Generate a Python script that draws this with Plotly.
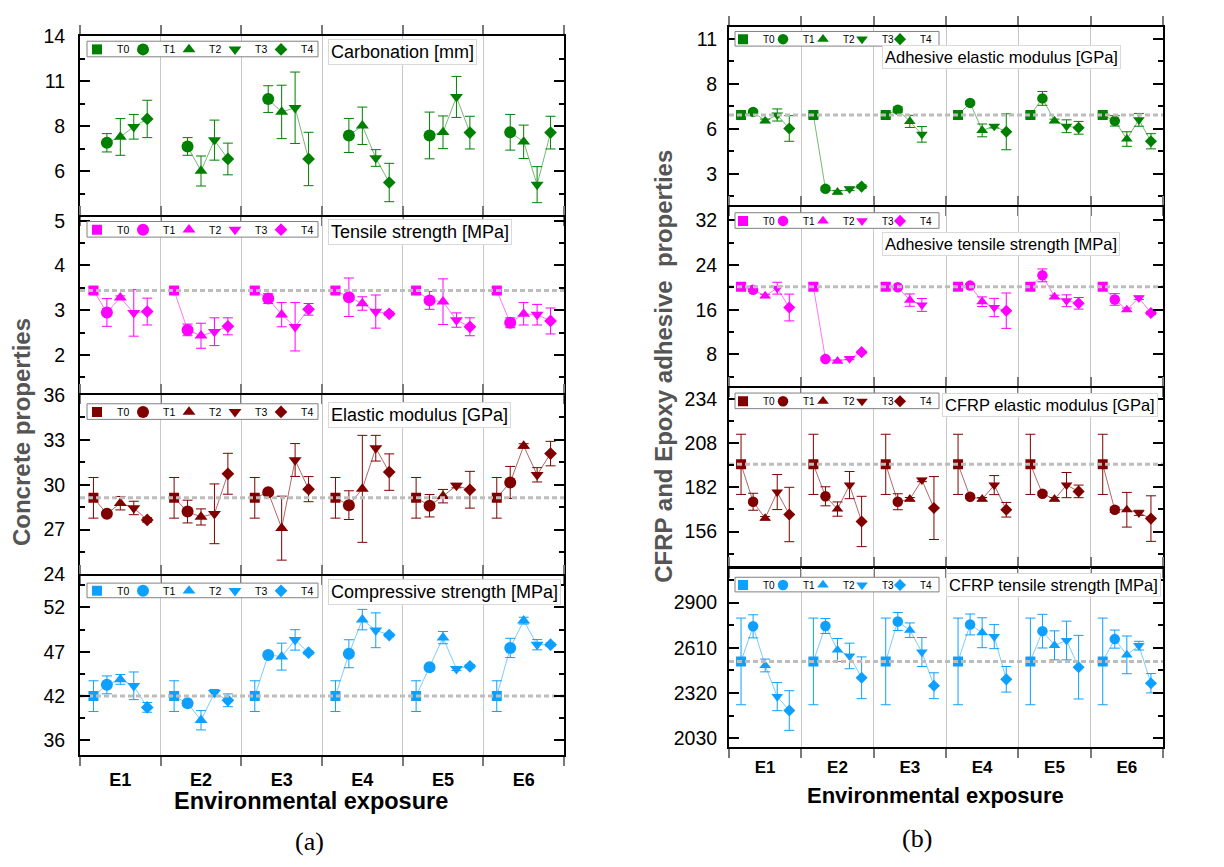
import plotly.graph_objects as go

W, H = 1224, 867
FONT = "Liberation Sans, Arial, sans-serif"

# ---------------- data ----------------
groups = ["E1", "E2", "E3", "E4", "E5", "E6"]
levels = ["T0", "T1", "T2", "T3", "T4"]

# (a) Concrete properties  rows: T0..T4, columns: E1..E6
carbonation = [
    [None, None, None, None, None, None],
    [7.31, 7.09, 9.93, 7.75, 7.75, 7.94],
    [7.66, 5.62, 9.16, 8.33, 7.94, 7.37],
    [8.27, 7.47, 9.41, 6.40, 10.06, 4.80],
    [8.74, 6.34, 6.34, 4.93, 7.92, 7.92],
]
carbonation_err = [
    [None, None, None, None, None, None],
    [0.55, 0.53, 0.80, 1.02, 1.40, 1.07],
    [1.10, 0.90, 1.60, 1.12, 0.98, 1.00],
    [0.74, 1.20, 2.14, 0.50, 1.23, 1.08],
    [1.12, 0.95, 1.60, 1.15, 0.98, 0.98],
]
tensile = [
    [3.44, 3.44, 3.44, 3.44, 3.44, 3.44],
    [2.95, 2.56, 3.26, 3.29, 3.22, 2.72],
    [3.28, 2.43, 2.90, 3.15, 3.19, 2.92],
    [2.94, 2.52, 2.63, 2.97, 2.78, 2.90],
    [2.97, 2.64, 3.02, 2.92, 2.63, 2.76],
]
tensile_err = [
    [0.07, 0.07, 0.07, 0.07, 0.07, 0.07],
    [0.31, 0.13, 0.11, 0.43, 0.20, 0.11],
    [0.04, 0.28, 0.27, 0.15, 0.51, 0.25],
    [0.52, 0.31, 0.54, 0.37, 0.16, 0.23],
    [0.30, 0.19, 0.13, 0.04, 0.20, 0.29],
]
elastic = [
    [29.12, 29.12, 29.12, 29.12, 29.12, 29.12],
    [28.05, 28.20, 29.49, 28.63, 28.59, 30.15],
    [28.76, 27.84, 27.09, 29.72, 29.23, 32.59],
    [28.44, 28.05, 31.65, 32.44, 29.94, 30.66],
    [27.64, 30.73, 29.70, 30.84, 29.66, 32.08],
]
elastic_err = [
    [1.36, 1.36, 1.36, 1.36, 1.36, 1.36],
    [0.15, 0.76, 0.15, 0.96, 0.75, 1.07],
    [0.45, 0.54, 2.14, 3.58, 0.45, 0.15],
    [0.45, 2.00, 1.10, 0.86, 0.15, 0.48],
    [0.15, 1.37, 0.84, 1.22, 1.23, 0.82],
]
compressive = [
    [41.6, 41.6, 41.6, 41.6, 41.6, 41.6],
    [42.92, 40.77, 46.42, 46.57, 44.99, 47.25],
    [43.56, 38.77, 46.23, 50.57, 48.46, 50.45],
    [42.81, 41.98, 48.19, 49.32, 44.80, 47.63],
    [40.28, 41.11, 46.69, 48.76, 45.10, 47.63],
]
compressive_err = [
    [1.8, 1.8, 1.8, 1.8, 1.8, 1.8],
    [1.05, 0.2, 0.2, 1.64, 0.2, 1.13],
    [0.57, 1.13, 1.58, 1.2, 0.72, 0.4],
    [1.62, 0.40, 1.20, 2.04, 0.2, 0.6],
    [0.57, 0.75, 0.2, 0.2, 0.2, 0.2],
]

# (b) CFRP and epoxy adhesive properties
adh_elastic = [
    [6.6, 6.6, 6.6, 6.6, 6.6, 6.6],
    [6.78, 2.33, 6.91, 7.30, 7.56, 6.26],
    [6.26, 2.14, 6.23, 5.71, 6.26, 5.21],
    [6.60, 2.33, 5.48, 5.95, 5.95, 6.32],
    [5.82, 2.46, None, 5.63, 5.86, 5.08],
]
adh_elastic_err = [
    [0.15, 0.15, 0.15, 0.15, 0.15, 0.15],
    [0.1, 0.1, 0.15, 0.1, 0.4, 0.3],
    [0.1, 0.1, 0.35, 0.37, 0.1, 0.42],
    [0.35, 0.1, 0.45, 0.1, 0.37, 0.37],
    [0.74, 0.1, None, 1.04, 0.37, 0.44],
]
adh_tensile = [
    [20.14, 20.14, 20.14, 20.14, 20.14, 20.14],
    [19.57, 7.19, 20.03, 20.32, 22.16, 17.84],
    [18.47, 6.79, 17.73, 17.44, 18.30, 16.00],
    [19.86, 7.25, 16.86, 16.40, 17.61, 18.13],
    [16.40, 8.40, None, 15.83, 17.15, 15.42],
]
adh_tensile_err = [
    [0.6, 0.6, 0.6, 0.6, 0.6, 0.6],
    [0.3, 0.2, 0.3, 0.3, 1.15, 1.04],
    [0.3, 0.2, 1.1, 0.86, 0.3, 0.3],
    [1.06, 0.2, 1.15, 1.64, 1.06, 0.3],
    [2.4, 0.2, None, 3.17, 1.04, 0.3],
]
cfrp_elastic = [
    [195.5, 195.5, 195.5, 195.5, 195.5, 195.5],
    [173.5, 176.7, 173.5, 176.4, 178.2, 168.8],
    [163.8, 169.2, 175.0, 175.0, 175.0, 168.8],
    [179.2, 183.3, 186.3, 183.3, 183.3, 167.0],
    [166.0, 161.9, 169.8, 168.8, 179.6, 163.6],
]
cfrp_elastic_err = [
    [17.7, 17.7, 17.7, 17.7, 17.7, 17.7],
    [5.0, 5.6, 4.7, 1.0, 1.0, 1.5],
    [1.0, 4.2, 1.0, 1.0, 1.0, 10.2],
    [10.3, 8.0, 1.0, 5.6, 7.4, 1.5],
    [16.0, 14.8, 18.5, 4.3, 3.7, 13.4],
]
cfrp_tensile = [
    [2523, 2523, 2523, 2523, 2523, 2523],
    [2748, 2750, 2779, 2760, 2717, 2666],
    [2497, 2596, 2723, 2707, 2626, 2565],
    [2297, 2558, 2583, 2682, 2657, 2624],
    [2208, 2418, 2367, 2408, 2486, 2383],
]
cfrp_tensile_err = [
    [278, 278, 278, 278, 278, 278],
    [74, 48, 58, 67, 108, 58],
    [41, 74, 47, 96, 93, 121],
    [90, 82, 93, 77, 124, 28],
    [127, 134, 83, 82, 204, 62],
]

titles_a = ["Carbonation [mm]", "Tensile strength [MPa]", "Elastic modulus [GPa]", "Compressive strength [MPa]"]
titles_b = ["Adhesive elastic modulus [GPa]", "Adhesive tensile strength [MPa]",
            "CFRP elastic modulus [GPa]", "CFRP tensile strength [MPa]"]

# tick labels (values where they sit on each axis, and the text shown)
carb_tickvals, carb_ticktext = [5.6, 8.3, 11.0, 13.7], ["6", "8", "11", "14"]
tens_tickvals, tens_ticktext = [2, 3, 4, 5], ["2", "3", "4", "5"]
elas_tickvals, elas_ticktext = [24, 27, 30, 33, 36], ["24", "27", "30", "33", "36"]
comp_tickvals, comp_ticktext = [36.4, 41.6, 46.8, 52.0], ["36", "42", "47", "52"]
aela_tickvals, aela_ticktext = [3.2, 5.8, 8.4, 11.0], ["3", "6", "8", "11"]
aten_tickvals, aten_ticktext = [8, 16, 24, 32], ["8", "16", "24", "32"]
cela_tickvals, cela_ticktext = [156, 182, 208, 234], ["156", "182", "208", "234"]
cten_tickvals, cten_ticktext = [2030, 2320, 2610, 2900], ["2030", "2320", "2610", "2900"]

# ---------------- styling / layout ----------------
GREEN, MAGENTA, MAROON, BLUE = "#008000", "#ff00ff", "#800000", "#0ea0ff"
LINEC = {GREEN: "rgba(0,128,0,0.55)", MAGENTA: "rgba(255,0,255,0.55)",
         MAROON: "rgba(128,0,0,0.6)", BLUE: "rgba(14,160,255,0.55)"}
symbols = ["square", "circle", "triangle-up", "triangle-down", "diamond"]
sizes_a = [10, 12, 11.3, 11.3, 9.8]
sizes_b = [10, 10.5, 10.2, 10.2, 9.3]

bounds_a = [24.5, 210, 393, 579, 764]
bounds_b = [15, 200, 386, 571, 756]

# legend key box geometry (pixels): symbol x-centres, box x-extent, box y-extent per row
leg_sym_a = [97, 143, 189, 235, 281]
leg_sym_b = [743, 783, 823, 862, 900]
leg_box_a = (87, 318)
leg_box_b = (735, 939)
leg_rows_a = [(31, 47), (216, 232), (403, 419), (587, 602)]
leg_rows_b = [(21, 36), (207, 223), (392, 408), (581, 596)]


def mid(vals, lo, hi):
    step = vals[1] - vals[0]
    out = [v - step / 2 for v in vals] + [vals[-1] + step / 2]
    return [v for v in out if lo < v < hi]


def rows(b, i):
    return (b[i] + 1, b[i + 1] - 1)


panels = [
    dict(vals=carbonation, errs=carbonation_err, color=GREEN, title=titles_a[0],
         tv=carb_tickvals, tt=carb_ticktext, rng=[3.0, 13.72], xpx=(80, 564), ypx=rows(bounds_a, 0),
         lrow=leg_rows_a[0], tbox=(328, 29), tsize=18, sizes=sizes_a),
    dict(vals=tensile, errs=tensile_err, color=MAGENTA, title=titles_a[1],
         tv=tens_tickvals, tt=tens_ticktext, rng=[1.15, 5.09], xpx=(80, 564), ypx=rows(bounds_a, 1),
         lrow=leg_rows_a[1], tbox=(328, 213), tsize=18, sizes=sizes_a),
    dict(vals=elastic, errs=elastic_err, color=MAROON, title=titles_a[2],
         tv=elas_tickvals, tt=elas_ticktext, rng=[24, 36], xpx=(80, 564), ypx=rows(bounds_a, 2),
         lrow=leg_rows_a[2], tbox=(328, 401), tsize=18, sizes=sizes_a),
    dict(vals=compressive, errs=compressive_err, color=BLUE, title=titles_a[3],
         tv=comp_tickvals, tt=comp_ticktext, rng=[34.74, 55.65], xpx=(80, 564), ypx=rows(bounds_a, 3),
         lrow=leg_rows_a[3], tbox=(328, 583), tsize=18, sizes=sizes_a),
    dict(vals=adh_elastic, errs=adh_elastic_err, color=GREEN, title=titles_b[0],
         tv=aela_tickvals, tt=aela_ticktext, rng=[1.40, 11.71], xpx=(729, 1163), ypx=rows(bounds_b, 0),
         lrow=leg_rows_b[0], tbox=(882, 35), tsize=16.5, sizes=sizes_b),
    dict(vals=adh_tensile, errs=adh_tensile_err, color=MAGENTA, title=titles_b[1],
         tv=aten_tickvals, tt=aten_ticktext, rng=[2.3, 34.42], xpx=(729, 1163), ypx=rows(bounds_b, 1),
         lrow=leg_rows_b[1], tbox=(882, 227), tsize=16.5, sizes=sizes_b),
    dict(vals=cfrp_elastic, errs=cfrp_elastic_err, color=MAROON, title=titles_b[2],
         tv=cela_tickvals, tt=cela_ticktext, rng=[135.4, 240.3], xpx=(729, 1163), ypx=rows(bounds_b, 2),
         lrow=leg_rows_b[2], tbox=(942, 392), tsize=16.5, sizes=sizes_b),
    dict(vals=cfrp_tensile, errs=cfrp_tensile_err, color=BLUE, title=titles_b[3],
         tv=cten_tickvals, tt=cten_ticktext, rng=[1975, 3119], xpx=(729, 1163), ypx=rows(bounds_b, 3),
         lrow=leg_rows_b[3], tbox=(946, 577), tsize=16.5, sizes=sizes_b),
]

fig = go.Figure()
layout = dict(width=W, height=H, margin=dict(l=0, r=0, t=0, b=0),
              paper_bgcolor="white", plot_bgcolor="white", showlegend=True,
              font=dict(family=FONT, color="black"))
annotations = []
shapes = []
ng = len(groups)
leg_count = 0

for i, p in enumerate(panels):
    n = i + 1
    is_a = n <= 4
    xa = "x" if n == 1 else f"x{n}"
    ya = "y" if n == 1 else f"y{n}"
    vals, errs, color = p["vals"], p["errs"], p["color"]
    # connecting lines within each exposure group
    lx, ly = [], []
    for g in range(ng):
        for k in range(len(levels)):
            v = vals[k][g]
            if v is not None:
                lx.append(g + (k + 1) / 6)
                ly.append(v)
        lx.append(None)
        ly.append(None)
    fig.add_trace(go.Scatter(x=lx, y=ly, mode="lines", line=dict(color=LINEC[color], width=1),
                             xaxis=xa, yaxis=ya, showlegend=False, hoverinfo="skip"))

    # legend key box
    bx = leg_box_a if is_a else leg_box_b
    ry0, ry1 = p["lrow"]
    shapes.append(dict(type="rect", xref="paper", yref="paper", x0=bx[0] / W, x1=bx[1] / W,
                       y0=1 - ry1 / H, y1=1 - ry0 / H, line=dict(color="#808080", width=1),
                       fillcolor="white", layer="above"))
    yc = (ry0 + ry1) / 2
    syms = leg_sym_a if is_a else leg_sym_b

    for k, lev in enumerate(levels):
        leg_count += 1
        lg = "legend" if leg_count == 1 else f"legend{leg_count}"
        xs = [g + (k + 1) / 6 for g in range(ng)]
        fig.add_trace(go.Scatter(
            x=xs, y=vals[k], mode="markers", name=lev, legend=lg,
            marker=dict(symbol=symbols[k], size=p["sizes"][k], color=color, line=dict(width=0)),
            error_y=dict(type="data", array=errs[k], color=color, thickness=1, width=5, visible=True),
            xaxis=xa, yaxis=ya, showlegend=True))
        layout[lg] = dict(x=(syms[k] - 20) / W, y=1 - (yc - 14.5) / H, xanchor="left", yanchor="top",
                          orientation="h", bgcolor="rgba(0,0,0,0)", borderwidth=0,
                          font=dict(family=FONT, size=10.5 if is_a else 10, color="black"),
                          itemwidth=30, tracegroupgap=0)
    if vals[0][0] is not None:
        fig.add_trace(go.Scatter(x=[0, ng], y=[vals[0][0], vals[0][0]], mode="lines",
                                 line=dict(color="#bdbdbd", width=3, dash="5px,3px"),
                                 xaxis=xa, yaxis=ya, showlegend=False, hoverinfo="skip"))

    bottom = n in (4, 8)
    layout["xaxis" if n == 1 else f"xaxis{n}"] = dict(
        domain=[p["xpx"][0] / W, p["xpx"][1] / W], anchor=ya, range=[0, ng],
        showline=True, linecolor="black", linewidth=2, mirror="ticks",
        tickmode="array", tickvals=[g + 0.5 for g in range(ng)], ticktext=groups, ticks="",
        showticklabels=bottom, showgrid=False, zeroline=False,
        tickfont=dict(family=FONT, size=18 if is_a else 17, weight="bold", color="black"),
        ticklabelstandoff=8 if is_a else 4,
        minor=dict(tickmode="array", tickvals=list(range(ng + 1)), ticks="outside", ticklen=9,
                   tickwidth=2, tickcolor="#7a7a7a", showgrid=True, gridcolor="#c8c8c8", gridwidth=1))
    layout["yaxis" if n == 1 else f"yaxis{n}"] = dict(
        domain=[1 - p["ypx"][1] / H, 1 - p["ypx"][0] / H], anchor=xa, range=p["rng"],
        showline=True, linecolor="black", linewidth=2, mirror="ticks",
        tickmode="array", tickvals=p["tv"], ticktext=p["tt"], ticks="inside", ticklen=10,
        tickwidth=1.5, tickcolor="black", showgrid=False, zeroline=False,
        tickfont=dict(family=FONT, size=19.5, color="black"),
        ticklabelstandoff=9 if is_a else 6,
        minor=dict(tickmode="array", tickvals=mid(p["tv"], p["rng"][0], p["rng"][1]),
                   ticks="inside", ticklen=5, tickwidth=1.5, tickcolor="black", showgrid=False))
    annotations.append(dict(text=p["title"], x=p["tbox"][0] / W, y=1 - p["tbox"][1] / H,
                            xref="paper", yref="paper", xanchor="left", yanchor="top",
                            showarrow=False, bgcolor="white", bordercolor="#d9d9d9", borderwidth=1,
                            borderpad=2, font=dict(family=FONT, size=p["tsize"], color="black")))

annotations += [
    dict(text="Concrete properties", x=21 / W, y=1 - 432 / H, textangle=-90,
         font=dict(family=FONT, size=24, weight="bold", color="#555555")),
    dict(text="CFRP and Epoxy adhesive\u00a0 properties", x=664 / W, y=1 - 365 / H, textangle=-90,
         font=dict(family=FONT, size=24, weight="bold", color="#555555")),
    dict(text="Environmental exposure", x=311 / W, y=1 - 811 / H,
         font=dict(family=FONT, size=23.5, weight="bold", color="black")),
    dict(text="Environmental exposure", x=936 / W, y=1 - 805 / H,
         font=dict(family=FONT, size=22, weight="bold", color="black")),
    dict(text="(a)", x=309 / W, y=1 - 852 / H,
         font=dict(family="Liberation Serif, Times New Roman, serif", size=26, color="black")),
    dict(text="(b)", x=917 / W, y=1 - 849 / H,
         font=dict(family="Liberation Serif, Times New Roman, serif", size=26, color="black")),
]
for a in annotations[-6:]:
    a.update(xref="paper", yref="paper", xanchor="center", yanchor="middle", showarrow=False)

layout["annotations"] = annotations
layout["shapes"] = shapes
fig.update_layout(**layout)
fig.write_html("out.html")
